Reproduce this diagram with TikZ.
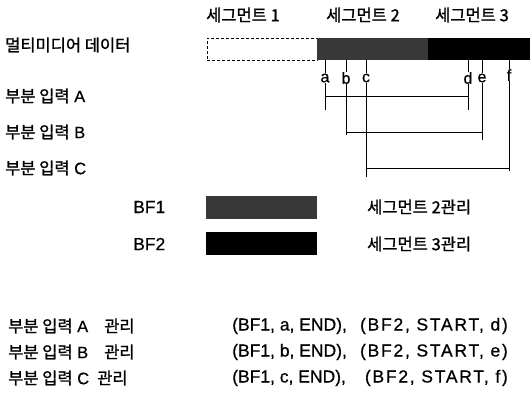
\documentclass[tikz,border=0pt]{standalone}
\usepackage{fontspec}
\setmainfont[FakeBold=0.6]{Liberation Sans}
\newfontfamily\kr[FakeBold=1.2]{Noto Sans CJK KR}
\newfontfamily\latwide[FakeBold=0.6,LetterSpace=10]{Liberation Sans}
\begin{document}
\begin{tikzpicture}[x=1pt,y=-1pt,
  txt/.style={font=\fontsize{16.5}{18}\selectfont, inner sep=0pt, anchor=west},
  lat/.style={font=\fontsize{17.5}{19}\selectfont, inner sep=0pt, anchor=west},
  latw/.style={font=\latwide\fontsize{17.5}{19}\selectfont, inner sep=0pt, anchor=east},
  seglbl/.style={font=\kr\fontsize{16.5}{18}\selectfont, inner sep=0pt},
  tick/.style={line width=0.8pt},
  letter/.style={font=\fontsize{16}{18}\selectfont, inner sep=0.4pt, fill=white},
  segA/.style={draw=black, densely dashed, line width=0.6pt, minimum height=22pt, inner sep=0pt},
  segB/.style={fill=black!78, minimum height=22pt, inner sep=0pt},
  segC/.style={fill=black, minimum height=22pt, inner sep=0pt}]
\useasboundingbox (0,0) rectangle (532,415);

% segment headers
\node[seglbl] (h1) at (243,15) {세그먼트 1};
\node[seglbl] (h2) at (363,15) {세그먼트 2};
\node[seglbl] (h3) at (472,15) {세그먼트 3};

% multimedia bar
\node[segA, minimum width=110pt] (s1) at (262,49) {};
\node[segB, minimum width=111pt] (s2) at (372.5,49) {};
\node[segC, minimum width=102pt] (s3) at (479,49) {};

% left labels
\node[txt] (md) at (5,45) {\kr 멀티미디어 데이터};
\node[txt] (pa) at (5,96) {{\kr 부분 입력} A};
\node[txt] (pb) at (5,132) {{\kr 부분 입력} B};
\node[txt] (pc) at (5,168) {{\kr 부분 입력} C};

% cut points
\coordinate (ta) at (325,60); \coordinate (ba) at (325,110);
\coordinate (tb) at (346,60); \coordinate (bb) at (346,135);
\coordinate (tc) at (366,60); \coordinate (bc) at (366,177);
\coordinate (td) at (468,60); \coordinate (bd) at (468,110);
\coordinate (te) at (482,60); \coordinate (be) at (482,140);
\coordinate (tf) at (509,60); \coordinate (bf) at (509,171);
\draw[tick] (ta) -- (ba);
\draw[tick] (tb) -- (bb);
\draw[tick] (tc) -- (bc);
\draw[tick] (td) -- (bd);
\draw[tick] (te) -- (be);
\draw[tick] (tf) -- (bf);
\node[letter] (la) at (325,78) {a};
\node[letter] (lb) at (346,78) {b};
\node[letter] (lc) at (366,78) {c};
\node[letter] (ld) at (468,78) {d};
\node[letter] (le) at (482,78) {e};
\node[letter] (lf) at (509,75) {f};

% partial input spans
\draw[tick] (ta |- pa) -- (td |- pa);
\draw[tick] (tb |- pb) -- (te |- pb);
\draw[tick] (tc |- pc) -- (tf |- pc);

% buffers
\node[lat] (bf1) at (133,207) {BF1};
\node[segB, minimum width=111pt, minimum height=23pt] (box1) at (261.5,207.5) {};
\node[txt] (m2) at (367,207) {\kr 세그먼트 2관리};
\node[lat] (bf2) at (133,244) {BF2};
\node[segC, minimum width=111pt, minimum height=23pt] (box2) at (261.5,243.5) {};
\node[txt] (m3) at (367,244) {\kr 세그먼트 3관리};

% management table
\node[txt] (ra) at (8,326) {{\kr 부분 입력} A};
\node[txt] (ka) at (104,326) {\kr 관리};
\node[lat] (va1) at (232,326) {(BF1, a, END),};
\node[latw] (va2) at (508,326) {(BF2, START, d)};
\node[txt] (rb) at (8,352) {{\kr 부분 입력} B};
\node[txt] (kb) at (104,352) {\kr 관리};
\node[lat] (vb1) at (232,352) {(BF1, b, END),};
\node[latw] (vb2) at (508,352) {(BF2, START, e)};
\node[txt] (rc) at (8,378) {{\kr 부분 입력} C};
\node[txt] (kc) at (97,378) {\kr 관리};
\node[lat] (vc1) at (232,378) {(BF1, c, END),};
\node[latw] (vc2) at (508,378) {(BF2, START, f)};
\end{tikzpicture}
\end{document}
